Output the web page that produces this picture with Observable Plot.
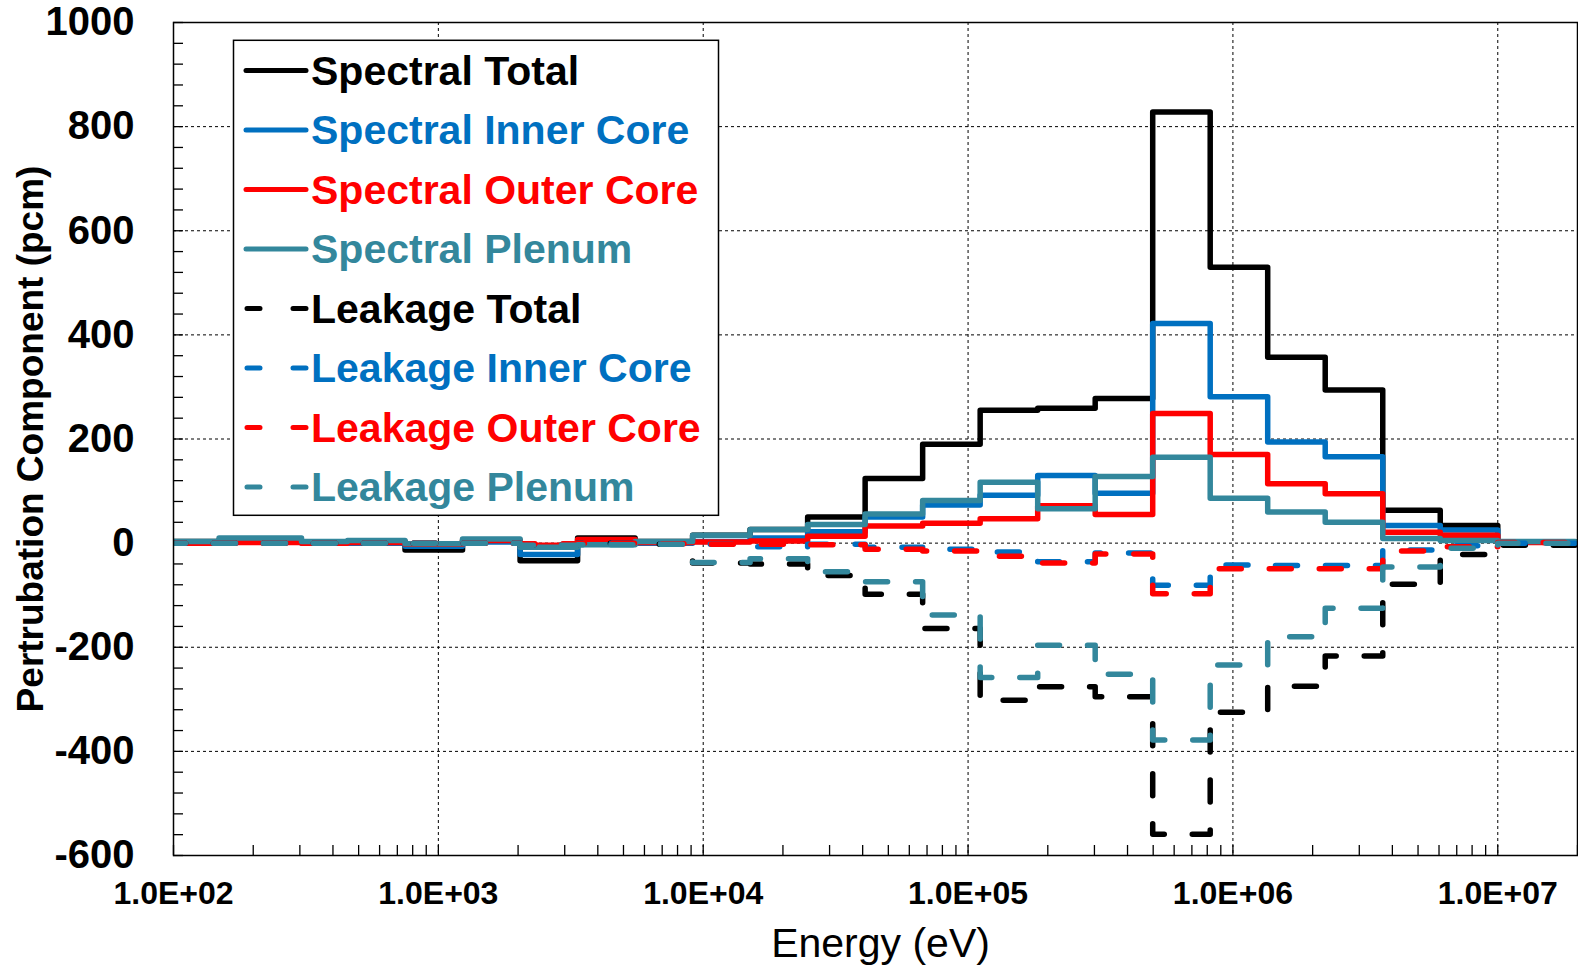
<!DOCTYPE html>
<html><head><meta charset="utf-8">
<script src="https://cdn.jsdelivr.net/npm/d3@7"></script>
<script src="https://cdn.jsdelivr.net/npm/@observablehq/plot@0.6"></script>
<style>
html,body{margin:0;padding:0;background:#fff;}
#wrap{position:relative;width:1578px;height:968px;font-family:"Liberation Sans",Arial,sans-serif;}
#wrap svg{position:absolute;left:0;top:0;}
</style></head><body><div id="wrap"></div>
<script>
// ECCO-33 style energy group boundaries (eV), ascending
const groupEdges = [91.66, 148.6, 304.3, 454.0, 748.5, 1234, 2035, 3355, 5531, 9119, 15030, 24790, 40870, 67380, 111100, 183200, 302000, 497900, 820800, 1353000, 2231000, 3679000, 6065000, 10000000, 19640000];

const seriesNames = ["Spectral Total", "Spectral Inner Core", "Spectral Outer Core", "Spectral Plenum", "Leakage Total", "Leakage Inner Core", "Leakage Outer Core", "Leakage Plenum"];
const seriesColors = ["#000000", "#0070C0", "#FF0000", "#33879C", "#000000", "#0070C0", "#FF0000", "#33879C"];
const seriesDashed = [false, false, false, false, true, true, true, true];

// values per group (pcm)
const spectralTotal  = [3, 6, 2, 3, -13, 5, -34, 10, 3, 15, 26, 50, 124, 190, 255, 259, 278, 828, 530, 357, 294, 63, 34, 2];
const spectralInner  = [0, 2, 0, 0, -6, 2, -22, 4, 0, 3, 10, 22, 50, 73, 92, 130, 96, 422, 281, 194, 166, 34, 25, 2];
const spectralOuter  = [0, 1, 0, 1, -2, 5, -4, 7, 1, 2, 4, 13, 33, 38, 47, 72, 55, 249, 170, 114, 95, 21, 15, 1];
const spectralPlenum = [3, 10, 3, 5, -1, 8, -8, -3, 3, 15, 26, 36, 56, 82, 117, 66, 128, 165, 86, 60, 40, 9, 5, 3];
const leakageTotal   = [0, 0, 0, 0, 0, 0, -3, 0, -2, -38, -40, -62, -98, -164, -302, -276, -295, -559, -325, -275, -217, -79, -22, -4];
const leakageInner   = [0, 0, 0, 0, 0, 0, -2, 0, -1, -2, -7, -2, -8, -12, -17, -36, -19, -81, -42, -43, -43, -13, -5, 0];
const leakageOuter   = [0, 0, 0, 0, 0, 0, -1, 0, -1, -2, -2, -3, -12, -15, -25, -38, -21, -97, -49, -49, -49, -15, -7, 1];
const leakagePlenum  = [0, 0, 0, 0, 0, 0, -4, -3, -2, -37, -30, -55, -74, -138, -258, -196, -252, -378, -234, -180, -125, -46, -10, 0];

const xTicks = [1e2, 1e3, 1e4, 1e5, 1e6, 1e7];
const xTickLabels = ["1.0E+02", "1.0E+03", "1.0E+04", "1.0E+05", "1.0E+06", "1.0E+07"];
const yTicks = [-600, -400, -200, 0, 200, 400, 600, 800, 1000];
const yTickLabels = ["-600", "-400", "-200", "0", "200", "400", "600", "800", "1000"];
const yMinorTicks = d3.range(-600, 1001, 40);
const xMinorTicks = [];
for (let k = 2; k <= 7; k++) for (let m = 1; m <= 9; m++) { const v = m * 10 ** k; if (v >= 100 && v <= 2e7) xMinorTicks.push(v); }

const seriesValues = [spectralTotal, spectralInner, spectralOuter, spectralPlenum, leakageTotal, leakageInner, leakageOuter, leakagePlenum];
const rows = [];
seriesValues.forEach((vals, s) => {
  vals.forEach((v, i) => rows.push({s, E: groupEdges[i], v}));
  rows.push({s, E: groupEdges[vals.length], v: vals[vals.length - 1]});
});

const lineMarks = seriesNames.map((name, s) => Plot.line(rows.filter(r => r.s === s), {
  x: "E", y: "v", curve: "step-after", stroke: seriesColors[s], strokeWidth: 5.5,
  strokeDasharray: seriesDashed[s] ? "22,28" : null,
  strokeLinecap: "round", strokeLinejoin: "round", clip: true
}));

const chart = Plot.plot({
  width: 1578, height: 968,
  marginLeft: 173, marginRight: 1, marginTop: 22, marginBottom: 113,
  style: {fontFamily: "'Liberation Sans', Arial, sans-serif", background: "white", color: "black"},
  x: {type: "log", domain: [100, 2e7], label: null},
  y: {domain: [-600, 1000], label: null},
  marks: [
    Plot.gridX(xTicks, {stroke: "black", strokeOpacity: 1, strokeWidth: 1, strokeDasharray: "3,3"}),
    Plot.gridY(yTicks, {stroke: "black", strokeOpacity: 1, strokeWidth: 1, strokeDasharray: "3,3"}),
    Plot.axisY(yMinorTicks, {tickSize: -10, text: null, label: null, strokeWidth: 1.3}),
    Plot.axisX(xMinorTicks, {tickSize: -10, text: null, label: null, strokeWidth: 1.3}),
    Plot.axisY(yTicks, {tickSize: 0, tickPadding: 39, tickFormat: d => yTickLabels[yTicks.indexOf(d)], fontSize: 40, fontWeight: "bold", label: null}),
    Plot.axisX(xTicks, {tickSize: 0, tickPadding: 26, tickFormat: d => xTickLabels[xTicks.indexOf(d)], fontSize: 32, fontWeight: "bold", label: null}),
    ...lineMarks,
    Plot.frame({stroke: "black", strokeWidth: 1.5}),
    Plot.text(["Energy (eV)"], {frameAnchor: "bottom", dy: 101, dx: 5, fontSize: 41}),
    Plot.text(["Pertrubation Component (pcm)"], {frameAnchor: "left", textAnchor: "middle", rotate: -90, dx: -142, fontSize: 37, fontWeight: "bold"})
  ]
});
const wrap = document.getElementById("wrap");
wrap.appendChild(chart);

// legend overlay
const leg = d3.create("svg").attr("width", 1578).attr("height", 968).style("pointer-events", "none");
leg.append("rect").attr("x", 233.5).attr("y", 40.3).attr("width", 485).attr("height", 475)
  .attr("fill", "white").attr("stroke", "black").attr("stroke-width", 1.5);
seriesNames.forEach((name, s) => {
  const y = 70.4 + s * 59.5;
  if (seriesDashed[s]) {
    leg.append("line").attr("x1", 247).attr("x2", 307).attr("y1", y).attr("y2", y)
      .attr("stroke", seriesColors[s]).attr("stroke-width", 5).attr("stroke-linecap", "round")
      .attr("stroke-dasharray", "13,33");
  } else {
    leg.append("line").attr("x1", 246).attr("x2", 306).attr("y1", y).attr("y2", y)
      .attr("stroke", seriesColors[s]).attr("stroke-width", 5).attr("stroke-linecap", "round");
  }
  leg.append("text").attr("x", 311).attr("y", y + 14.5).attr("fill", seriesColors[s])
    .attr("font-family", "'Liberation Sans', Arial, sans-serif").attr("font-size", 41)
    .attr("font-weight", "bold").text(name);
});
wrap.appendChild(leg.node());
</script></body></html>
